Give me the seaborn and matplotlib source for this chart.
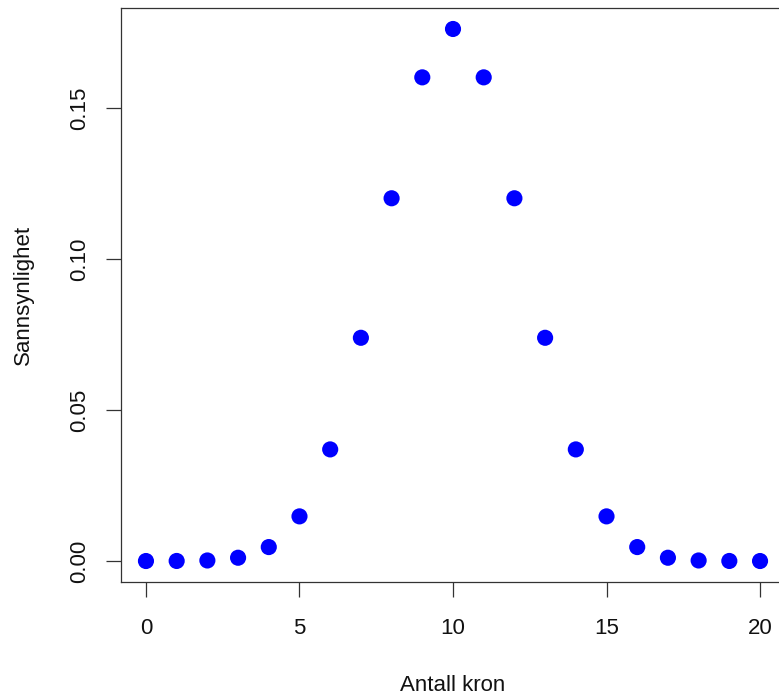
import matplotlib
matplotlib.use("Agg")
import matplotlib.pyplot as plt
import seaborn as sns
import pandas as pd

antall = list(range(21))
sannsynlighet = [0.000001, 0.000019, 0.000181, 0.001087, 0.004621, 0.014786,
                 0.036964, 0.073929, 0.120134, 0.160179, 0.176197, 0.160179,
                 0.120134, 0.073929, 0.036964, 0.014786, 0.004621, 0.001087,
                 0.000181, 0.000019, 0.000001]
xticks = [0, 5, 10, 15, 20]
yticks = [0.00, 0.05, 0.10, 0.15]
ytick_labels = ["0.00", "0.05", "0.10", "0.15"]

sns.set_style("white")
plt.rcParams['font.family'] = ['Liberation Sans', 'DejaVu Sans']

df = pd.DataFrame({"x": antall, "y": sannsynlighet})

fig = plt.figure(figsize=(7.79, 6.97), dpi=100)
ax = fig.add_axes([121.4/779, (697-582.3)/697, 663.2/779, 574.6/697])
sns.scatterplot(data=df, x="x", y="y", ax=ax, color="#0000ff", s=135,
                edgecolor="none", linewidth=0)

rng = max(sannsynlighet) - min(sannsynlighet)
ax.set_xlim(-0.8, 20.8)
ax.set_ylim(min(sannsynlighet) - 0.04*rng, max(sannsynlighet) + 0.04*rng)
ax.set_xticks(xticks)
ax.set_xticklabels([str(t) for t in xticks])
ax.set_yticks(yticks)
ax.set_yticklabels(ytick_labels, rotation=90, va="center")
ax.tick_params(axis="both", direction="out", length=10.5, width=0.9,
               color="#333333", labelsize=16, labelcolor="#111111",
               bottom=True, left=True)
ax.tick_params(axis="x", pad=15)
ax.tick_params(axis="y", pad=12)
for sp in ax.spines.values():
    sp.set_visible(True)
    sp.set_color("#333333")
    sp.set_linewidth(0.9)
ax.set_xlabel("Antall kron", fontsize=16, color="#111111", labelpad=26)
ax.set_ylabel("Sannsynlighet", fontsize=16, color="#111111", labelpad=25.5)
ax.grid(False)
fig.savefig("out.png", dpi=100)
